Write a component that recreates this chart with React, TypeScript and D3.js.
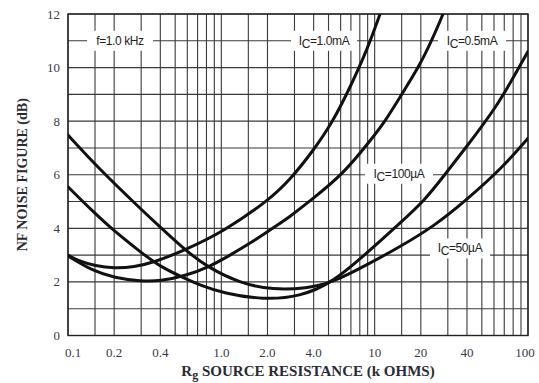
import React from "react";
import * as d3 from "d3";

// ---- data ----
const xTickValues = [0.1, 0.2, 0.4, 1, 2, 4, 10, 20, 40, 100];
const xTickLabels = ["0.1", "0.2", "0.4", "1.0", "2.0", "4.0", "10", "20", "40", "100"];
const yTickValues = [0, 2, 4, 6, 8, 10, 12];
const gridMultipliers = [1, 1.5, 2, 3, 4, 5, 6, 7, 8, 9];
const gridDecades = [0.1, 1, 10];
const yGridValues = [0, 1, 2, 3, 4, 5, 6, 7, 8, 9, 10, 11, 12];

const r1mA = [0.1, 0.12, 0.15, 0.2, 0.27, 0.36, 0.58, 1.03, 1.98, 2.8, 4.0, 5.3, 6.9, 8.9, 10.8, 11.6];
const nf1mA = [3.0, 2.76, 2.6, 2.51, 2.56, 2.72, 3.19, 3.88, 4.99, 5.8, 6.92, 7.95, 9.25, 10.65, 11.96, 12.5];

const r05mA = [0.1, 0.146, 0.2, 0.3, 0.4, 0.58, 0.84, 1.14, 1.54, 2.15, 2.8, 3.73, 6.2, 9.8, 11.7, 15, 19.3, 23.5, 28, 30];
const nf05mA = [2.97, 2.4, 2.16, 2.02, 2.03, 2.22, 2.57, 3.0, 3.44, 4.0, 4.43, 5.0, 6.0, 7.42, 8, 9, 10, 11, 12, 12.5];

const r100uA = [0.1, 0.146, 0.197, 0.295, 0.398, 0.58, 0.726, 1.03, 1.88, 3.26, 5.3, 8.87, 14.6, 21.3, 28, 39.8, 62.5, 84.4, 100];
const nf100uA = [5.55, 4.62, 3.93, 3.13, 2.57, 2.13, 1.88, 1.58, 1.33, 1.45, 1.97, 3.07, 4.19, 5.06, 5.93, 7.05, 8.54, 9.85, 10.6];

const r50uA = [0.1, 0.162, 0.295, 0.398, 0.58, 0.803, 1.32, 2.18, 3.6, 5.3, 8.87, 14.6, 24.1, 39.8, 69, 100];
const nf50uA = [7.48, 6.18, 4.75, 4.05, 3.19, 2.57, 1.95, 1.7, 1.76, 1.97, 2.63, 3.31, 4.06, 5.06, 6.3, 7.36];

const seriesR = [r1mA, r05mA, r100uA, r50uA];
const seriesNF = [nf1mA, nf05mA, nf100uA, nf50uA];

export default function App() {
  const W = 539, H = 383;
  const left = 68, right = 528, top = 14, bottom = 335.5;
  const x = d3.scaleLog().domain([0.1, 100]).range([left, right]);
  const y = d3.scaleLinear().domain([0, 12]).range([bottom, top]);

  const xGrid: number[] = [];
  gridDecades.forEach((d) => gridMultipliers.forEach((m) => xGrid.push(d * m)));
  xGrid.push(100);

  const line = d3
    .line<[number, number]>()
    .x((d) => x(d[0]))
    .y((d) => y(d[1]))
    .curve(d3.curveBasis);

  const gridColor = "#3a3a3a";
  const tickFont = "'Liberation Serif', 'DejaVu Serif', serif";
  const annFont = "'Liberation Sans', Arial, sans-serif";

  const Label = ({ cx, cy, main, sub, rest, w }: any) => (
    <g>
      <rect x={cx - w / 2} y={cy - 10} width={w} height={20} fill="#fff" />
      <text x={cx} y={cy + 4} textAnchor="middle" fontFamily={annFont} fontSize={12} fill="#222" letterSpacing={-0.4}>
        {main}
        {sub ? (
          <tspan fontSize={12} dy={3}>{sub}</tspan>
        ) : null}
        {sub ? <tspan dy={-3}>{rest}</tspan> : rest}
      </text>
    </g>
  );

  return (
    <svg width={W} height={H} style={{ position: "absolute", left: 0, top: 0, background: "#fff" }}>
      <defs>
        <clipPath id="plotclip">
          <rect x={left} y={top} width={right - left} height={bottom - top} />
        </clipPath>
      </defs>
      {/* grid */}
      <g stroke={gridColor} strokeWidth={1.1}>
        {yGridValues.map((v) => (
          <line key={"h" + v} x1={left} x2={right} y1={y(v)} y2={y(v)} />
        ))}
        {xGrid.map((v, i) => (
          <line key={"v" + i} x1={x(v)} x2={x(v)} y1={top} y2={bottom} />
        ))}
      </g>
      <rect x={left} y={top} width={right - left} height={bottom - top} fill="none" stroke="#222" strokeWidth={1.4} />

      {/* labels */}
      <Label cx={120} cy={y(11)} main="f=1.0 kHz" rest="" w={66} />
      <Label cx={324} cy={y(11)} main="I" sub="C" rest="=1.0mA" w={66} />
      <Label cx={472} cy={y(11)} main="I" sub="C" rest="=0.5mA" w={68} />
      <Label cx={399} cy={y(6) - 1} main="I" sub="C" rest="=100µA" w={68} />
      <Label cx={460} cy={y(3.25)} main="I" sub="C" rest="=50µA" w={60} />

      {/* curves */}
      <g clipPath="url(#plotclip)">
        {seriesR.map((rs, i) => (
          <path
            key={i}
            d={line(rs.map((r, j) => [r, seriesNF[i][j]] as [number, number])) || ""}
            fill="none"
            stroke="#111"
            strokeWidth={3}
            strokeLinecap="round"
          />
        ))}
      </g>

      {/* y ticks */}
      {yTickValues.map((v) => (
        <text key={"yt" + v} x={60} y={y(v) + 4.5} textAnchor="end" fontFamily={tickFont} fontSize={13} fill="#3a3a4a">
          {v}
        </text>
      ))}
      {/* x ticks */}
      {xTickValues.map((v, i) => {
        let px = x(v);
        if (i === 0) px += 5;
        if (i === xTickValues.length - 1) px -= 3;
        return (
          <text key={"xt" + i} x={px} y={357} textAnchor="middle" fontFamily={tickFont} fontSize={13} fill="#3a3a4a">
            {xTickLabels[i]}
          </text>
        );
      })}

      {/* axis titles */}
      <text
        transform={`translate(27, ${(top + bottom) / 2}) rotate(-90)`}
        textAnchor="middle"
        fontFamily={tickFont}
        fontWeight="bold"
        fontSize={14}
        fill="#2a2a35"
      >
        NF NOISE FIGURE (dB)
      </text>
      <text x={308} y={376} textAnchor="middle" fontFamily={tickFont} fontWeight="bold" fontSize={15} fill="#2a2a35">
        R<tspan fontSize={12} dy={3}>g</tspan>
        <tspan dy={-3}> SOURCE RESISTANCE (k OHMS)</tspan>
      </text>
    </svg>
  );
}
